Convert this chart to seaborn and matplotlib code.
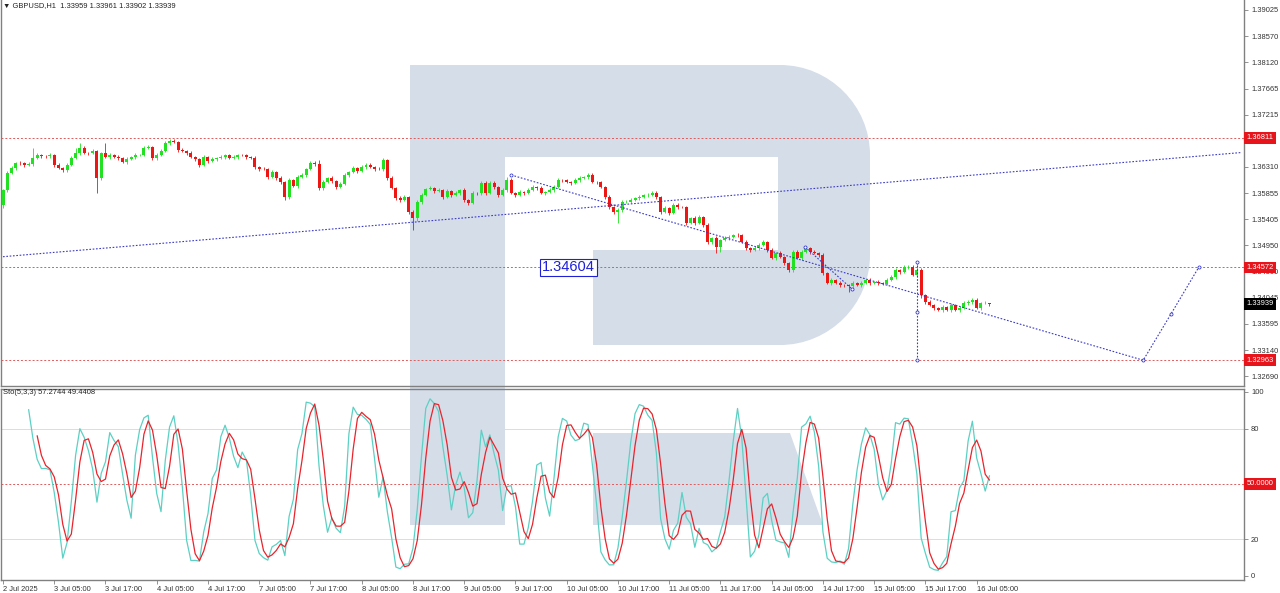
import numpy as np
import pandas as pd
import seaborn as sns
import matplotlib.pyplot as plt
from matplotlib.path import Path
from matplotlib.patches import PathPatch, Polygon

sns.set_theme(style="white")
plt.rcParams['font.family'] = ['Liberation Sans', 'DejaVu Sans']

# GBPUSD H1, 2 Jul 17:00 -> 16 Jul 08:00 (232 bars)
first_open = 1.35650
closes = [
    1.35909, 1.36204, 1.36290, 1.36377, 1.36370, 1.36342, 1.36359, 1.36463, 1.36515, 1.36498,
    1.36490, 1.36515, 1.36342, 1.36290, 1.36256, 1.36342, 1.36463, 1.36550, 1.36636, 1.36550,
    1.36545, 1.36584, 1.36117, 1.36550, 1.36481, 1.36515, 1.36481, 1.36463, 1.36394, 1.36446,
    1.36481, 1.36515, 1.36520, 1.36636, 1.36654, 1.36463, 1.36515, 1.36584, 1.36723, 1.36757,
    1.36740, 1.36602, 1.36584, 1.36550, 1.36481, 1.36446, 1.36342, 1.36481, 1.36411, 1.36446,
    1.36463, 1.36481, 1.36515, 1.36463, 1.36481, 1.36515, 1.36510, 1.36481, 1.36463, 1.36308,
    1.36273, 1.36268, 1.36135, 1.36221, 1.36117, 1.36048, 1.35788, 1.36082, 1.35979, 1.36135,
    1.36169, 1.36273, 1.36377, 1.36359, 1.35944, 1.36048, 1.36117, 1.36065, 1.35961, 1.36013,
    1.36169, 1.36221, 1.36290, 1.36238, 1.36308, 1.36342, 1.36308, 1.36273, 1.36268, 1.36429,
    1.36117, 1.35944, 1.35771, 1.35736, 1.35788, 1.35529, 1.35425, 1.35701, 1.35823, 1.35927,
    1.35944, 1.35892, 1.35909, 1.35788, 1.35892, 1.35823, 1.35857, 1.35909, 1.35736, 1.35684,
    1.35857, 1.35850, 1.36031, 1.35857, 1.36031, 1.35961, 1.35823, 1.35909, 1.36082, 1.35857,
    1.35823, 1.35875, 1.35857, 1.35909, 1.35961, 1.35944, 1.35857, 1.35875, 1.35909, 1.35961,
    1.36082, 1.36075, 1.36048, 1.36031, 1.36082, 1.36117, 1.36135, 1.36169, 1.36048, 1.36040,
    1.35961, 1.35788, 1.35615, 1.35529, 1.35563, 1.35701, 1.35708, 1.35736, 1.35771, 1.35788,
    1.35823, 1.35830, 1.35857, 1.35788, 1.35529, 1.35598, 1.35511, 1.35650, 1.35615, 1.35610,
    1.35338, 1.35425, 1.35338, 1.35442, 1.35303, 1.35009, 1.35079, 1.34923, 1.35044, 1.35079,
    1.35096, 1.35130, 1.35125, 1.35009, 1.34905, 1.34871, 1.34905, 1.34957, 1.35009, 1.34871,
    1.34732, 1.34819, 1.34750, 1.34646, 1.34525, 1.34836, 1.34732, 1.34836, 1.34905, 1.34836,
    1.34819, 1.34784, 1.34473, 1.34299, 1.34351, 1.34299, 1.34265, 1.34260, 1.34248, 1.34299,
    1.34265, 1.34299, 1.34351, 1.34299, 1.34317, 1.34299, 1.34290, 1.34351, 1.34403, 1.34525,
    1.34490, 1.34577, 1.34585, 1.34438, 1.34525, 1.34092, 1.33971, 1.33919, 1.33867, 1.33832,
    1.33884, 1.33832, 1.33919, 1.33830, 1.33867, 1.33953, 1.33971, 1.34005, 1.33867, 1.33953,
    1.33959, 1.33939,
]
# wick lengths in pips above / below the body
wick_up = [
    2, 3, 4, 2, 3, 2, 3, 17, 3, 2, 2, 3, 2, 3, 2, 3, 4, 8, 9, 3,
    2, 3, 2, 2, 17, 3, 2, 3, 2, 3, 2, 3, 2, 4, 3, 2, 3, 3, 4, 4,
    3, 2, 3, 2, 3, 2, 2, 3, 2, 3, 2, 3, 2, 2, 3, 2, 2, 3, 2, 3,
    2, 3, 2, 3, 2, 3, 2, 3, 2, 3, 3, 2, 4, 3, 7, 3, 2, 3, 2, 3,
    3, 2, 3, 2, 3, 3, 4, 2, 3, 4, 2, 3, 2, 3, 4, 2, 3, 3, 3, 2,
    3, 2, 3, 2, 3, 2, 3, 2, 3, 2, 3, 2, 4, 3, 4, 3, 2, 3, 5, 3,
    2, 3, 2, 3, 3, 2, 3, 2, 3, 4, 3, 2, 3, 2, 3, 3, 2, 4, 3, 2,
    3, 2, 3, 2, 3, 3, 2, 3, 2, 3, 2, 3, 3, 4, 2, 3, 2, 4, 3, 2,
    3, 2, 3, 3, 2, 3, 2, 3, 2, 3, 3, 2, 3, 2, 3, 2, 3, 3, 3, 2,
    3, 2, 3, 2, 2, 4, 3, 3, 3, 2, 3, 2, 3, 2, 3, 2, 3, 2, 2, 3,
    2, 3, 2, 3, 2, 3, 2, 3, 4, 3, 2, 4, 3, 3, 14, 3, 2, 3, 2, 2,
    3, 2, 3, 2, 3, 3, 3, 4, 3, 2, 3, 0.2,
]
wick_dn = [
    6, 3, 2, 3, 2, 3, 2, 3, 2, 3, 2, 2, 3, 2, 3, 3, 2, 2, 3, 2,
    3, 2, 26, 3, 2, 3, 2, 3, 2, 3, 2, 3, 2, 3, 2, 3, 3, 2, 2, 3,
    2, 3, 2, 3, 2, 3, 3, 2, 3, 2, 3, 2, 3, 2, 2, 3, 2, 3, 2, 3,
    3, 2, 3, 2, 3, 3, 6, 3, 2, 3, 2, 3, 2, 3, 3, 3, 2, 3, 3, 2,
    2, 3, 2, 3, 2, 3, 2, 3, 2, 3, 3, 2, 3, 3, 2, 3, 21, 5, 3, 2,
    2, 3, 2, 3, 2, 3, 2, 3, 3, 4, 2, 3, 2, 3, 2, 3, 3, 2, 3, 2,
    3, 2, 3, 2, 2, 3, 2, 3, 2, 3, 2, 3, 2, 3, 2, 3, 2, 3, 2, 3,
    2, 3, 3, 4, 19, 3, 2, 3, 2, 3, 2, 3, 2, 3, 4, 2, 3, 2, 3, 2,
    3, 2, 3, 2, 3, 4, 3, 10, 8, 2, 3, 2, 3, 2, 3, 3, 2, 3, 2, 3,
    2, 3, 2, 3, 4, 3, 2, 3, 2, 3, 2, 3, 3, 2, 3, 2, 3, 3, 10, 3,
    2, 3, 2, 3, 2, 3, 2, 3, 2, 3, 3, 2, 3, 2, 3, 5, 3, 2, 3, 2,
    3, 2, 3, 2, 3, 2, 3, 3, 2, 3, 2, 3.7,
]

tick_labels = ["2 Jul 2025", "3 Jul 05:00", "3 Jul 17:00", "4 Jul 05:00", "4 Jul 17:00",
               "7 Jul 05:00", "7 Jul 17:00", "8 Jul 05:00", "8 Jul 17:00", "9 Jul 05:00",
               "9 Jul 17:00", "10 Jul 05:00", "10 Jul 17:00", "11 Jul 05:00", "11 Jul 17:00",
               "14 Jul 05:00", "14 Jul 17:00", "15 Jul 05:00", "15 Jul 17:00", "16 Jul 05:00"]
tick_bars = list(range(0, 240, 12))
price_ticks = [1.39025, 1.38570, 1.38120, 1.37665, 1.37215, 1.36310, 1.35855,
               1.35405, 1.34950, 1.34500, 1.34045, 1.33595, 1.33140, 1.32690]
levels = [1.36811, 1.34572, 1.32963]
last_price = 1.33939

# drawings (bar, price)
trend_long = ([0, 290], [1.34755, 1.36558])
trend_down = ([119, 267, 273.5, 280], [1.36169, 1.32963, 1.33763, 1.34572])
trend_short = ([187.8, 198.8], [1.34923, 1.34196])
vert_line = ([214, 214, 214], [1.34663, 1.33797, 1.32963])
box_label = (132.4, 1.34572, "1.34604")

# ---- data prep
c = np.array(closes)
o = np.r_[first_open, c[:-1]]
hi = np.maximum(o, c) + np.array(wick_up) * 1e-4
lo = np.minimum(o, c) - np.array(wick_dn) * 1e-4
bars = np.arange(len(c))
df = pd.DataFrame({"bar": bars, "open": o, "high": hi, "low": lo, "close": c})

# Stochastic(5,3,3)
hh = df["high"].rolling(5).max()
ll = df["low"].rolling(5).min()
df["k"] = 100 * (df["close"] - ll).rolling(3).sum() / (hh - ll).rolling(3).sum()
df["d"] = df["k"].rolling(3).mean()

# ---- figure
W, H = 1280, 593
fig = plt.figure(figsize=(W / 100, H / 100), dpi=100)
fig.patch.set_facecolor("white")


def box(x0, y0, x1, y1):
    return [x0 / W, 1 - y1 / H, (x1 - x0) / W, (y1 - y0) / H]


# watermark logo in pixel space
bg = fig.add_axes([0, 0, 1, 1], zorder=0)
bg.set_xlim(0, W)
bg.set_ylim(H, 0)
bg.axis("off")
wm = "#d5dde9"
verts = [(410, 65), (780, 65), (829.5, 65), (870, 105.5), (870, 155), (870, 255),
         (870, 304.5), (829.5, 345), (780, 345), (593, 345), (593, 250), (778, 250),
         (778, 157), (505, 157), (505, 525), (410, 525), (410, 65)]
codes = [Path.MOVETO, Path.LINETO, Path.CURVE4, Path.CURVE4, Path.CURVE4, Path.LINETO,
         Path.CURVE4, Path.CURVE4, Path.CURVE4, Path.LINETO, Path.LINETO, Path.LINETO,
         Path.LINETO, Path.LINETO, Path.LINETO, Path.LINETO, Path.CLOSEPOLY]
bg.add_patch(PathPatch(Path(verts, codes), fc=wm, ec="none"))
bg.add_patch(Polygon([(593, 433), (790, 433), (823, 525), (593, 525)], fc=wm, ec="none"))

ax = fig.add_axes(box(1, 0, 1244, 386), zorder=1)
ax2 = fig.add_axes(box(1, 389, 1244, 580), zorder=1, sharex=ax)
for a in (ax, ax2):
    a.patch.set_alpha(0)
    for s in a.spines.values():
        s.set_color("#808080")
        s.set_linewidth(1.0)
ax.spines["top"].set_visible(False)

# candles
green, red = "#22e022", "#ee1515"
cols = np.where(df["close"] >= df["open"], green, red)
ax.vlines(df["bar"], df["low"], df["high"], colors=cols, lw=0.6, zorder=3)
body = (df["close"] - df["open"]).abs().clip(lower=0.00003)
ax.bar(df["bar"], body, bottom=df[["open", "close"]].min(axis=1), width=0.7,
       color=cols, linewidth=0, zorder=4)

ax.set_xlim(-0.47, 290.6)
ax.set_ylim(1.32517, 1.39198)

for lv in levels:
    ax.axhline(lv, color="#e05a5a", lw=0.7, ls=(0, (2, 2)), zorder=2)

blue = "#3a3ac8"
dots = (0, (1.5, 1.5))
ax.plot(*trend_long, color=blue, lw=0.8, ls=dots, zorder=5)
ax.plot(*trend_down, color=blue, lw=0.8, ls=dots, zorder=5)
ax.plot(*trend_short, color=blue, lw=0.8, ls=dots, zorder=5)
ax.plot(*vert_line, color=blue, lw=0.8, ls=dots, zorder=5)
for xs, ys in (trend_down, trend_short, vert_line):
    ax.plot(xs, ys, ls="none", marker="o", ms=2.2, mfc="white", mec=blue, mew=0.6, zorder=6)

ax.text(box_label[0], box_label[1], box_label[2], fontsize=10.5, color="#2020d8",
        ha="center", va="center", zorder=7,
        bbox=dict(boxstyle="square,pad=0.12", fc="white", ec="#2020d8", lw=0.8))

# right axis
ax.yaxis.tick_right()
ax.set_yticks(price_ticks)
ax.set_yticklabels([f"{p:.5f}" for p in price_ticks])
ax.tick_params(axis="y", length=3, width=0.6, color="#808080", labelsize=5.4,
               labelcolor="#333333", pad=2, right=True, left=False)
ax.tick_params(axis="x", bottom=False, labelbottom=False)
ax.grid(False)

ytr = ax.get_yaxis_transform()
for lv in levels:
    ax.text(1.002, lv, f"{lv:.5f}", transform=ytr, fontsize=5.4, color="white",
            ha="left", va="center", clip_on=False, zorder=10,
            bbox=dict(boxstyle="square,pad=0.3", fc="#e8141c", ec="none"))
ax.text(1.002, last_price, f"{last_price:.5f}", transform=ytr, fontsize=5.4, color="white",
        ha="left", va="center", clip_on=False, zorder=10,
        bbox=dict(boxstyle="square,pad=0.3", fc="#000000", ec="none"))

# stochastic pane
sns.lineplot(data=df, x="bar", y="k", ax=ax2, color="#5cd0c4", lw=0.9, zorder=4)
sns.lineplot(data=df, x="bar", y="d", ax=ax2, color="#e8242c", lw=0.9, zorder=5)
ax2.set_ylim(-2.2, 101.6)
for lv in (80, 20):
    ax2.axhline(lv, color="#dcdcdc", lw=0.7, zorder=1)
ax2.axhline(50, color="#e05a5a", lw=0.7, ls=(0, (2, 2)), zorder=2)
ax2.yaxis.tick_right()
ax2.set_yticks([0, 20, 80, 100])
ax2.set_yticklabels(["0", "20", "80", "100"])
ax2.tick_params(axis="y", length=3, width=0.6, color="#808080", labelsize=5.4,
                labelcolor="#333333", pad=2, right=True, left=False)
ax2.text(1.002, 50, "50.0000", transform=ax2.get_yaxis_transform(), fontsize=5.4,
         color="white", ha="left", va="center", clip_on=False, zorder=10,
         bbox=dict(boxstyle="square,pad=0.3", fc="#e8141c", ec="none"))
ax2.set_xlabel("")
ax2.set_ylabel("")
ax.set_ylabel("")
ax2.set_xticks(tick_bars)
ax2.set_xticklabels(tick_labels, ha="left")
ax2.tick_params(axis="x", length=3, width=0.6, color="#808080", labelsize=5.4,
                labelcolor="#333333", pad=1, bottom=True)
ax2.grid(False)

fig.text(3 / W, 1 - 6 / H, "▼ GBPUSD,H1  1.33959 1.33961 1.33902 1.33939",
         fontsize=5.4, color="#222222", ha="left", va="center")
fig.text(3 / W, 1 - 393 / H, "Sto(5,3,3) 57.2744 49.4408",
         fontsize=5.4, color="#222222", ha="left", va="center")

fig.savefig("out.png", dpi=100, facecolor="white")
